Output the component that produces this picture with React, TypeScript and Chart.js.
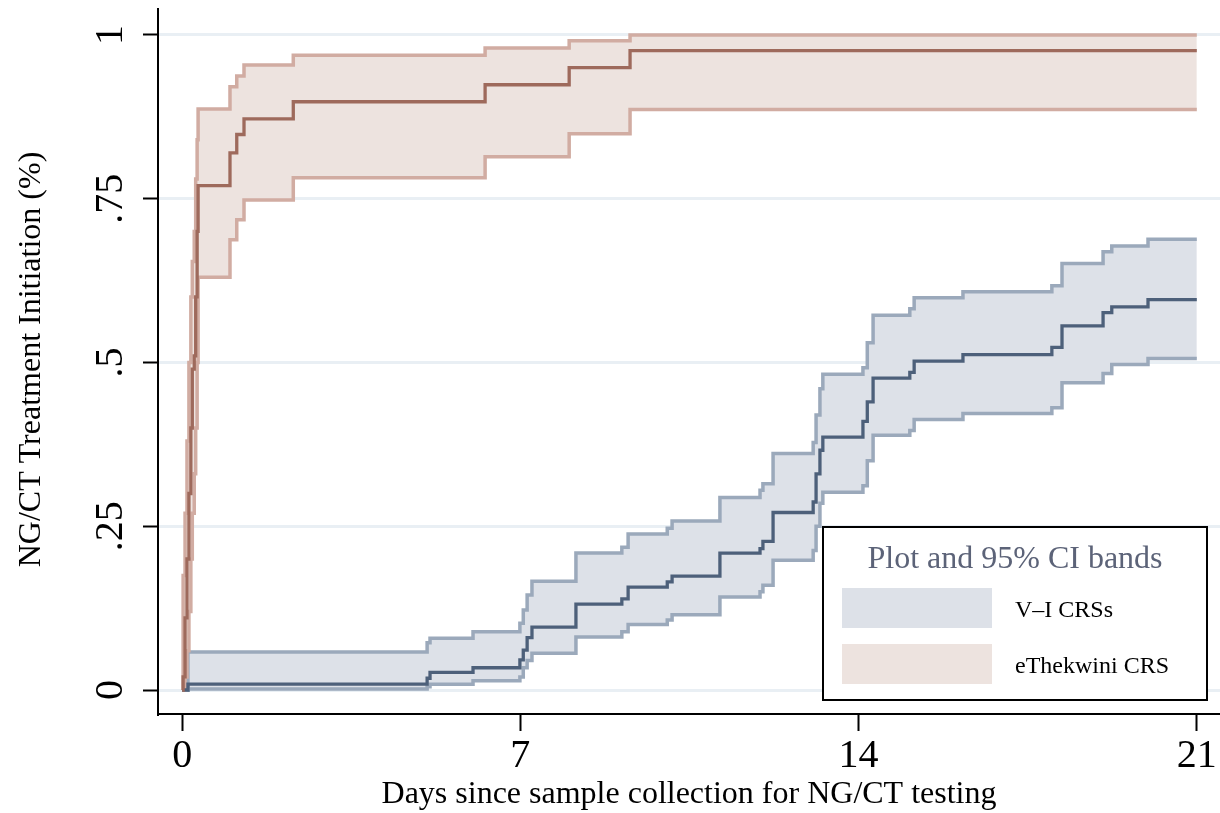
import React, { useEffect, useRef } from "react";
import { Chart, registerables } from "chart.js";

Chart.register(...registerables);

const FONT = '"Liberation Serif", "Times New Roman", serif';

const X_TICKS = [0, 7, 14, 21];
const Y_TICKS = [0, 0.25, 0.5, 0.75, 1];
const Y_TICK_LABELS = ["0", ".25", ".5", ".75", "1"];

const X_TITLE = "Days since sample collection for NG/CT testing";
const Y_TITLE = "NG/CT Treatment Initiation (%)";
const LEGEND_TITLE = "Plot and 95% CI bands";
const SERIES_LABELS = ["V\u2013I CRSs", "eThekwini CRS"];

// V–I CRSs: days, estimate, upper & lower 95% CI
const VI_T = [0, 0.12, 5.07, 5.13, 6.02, 6.99, 7.06, 7.14, 7.24, 8.15, 9.1, 9.23, 10.04, 10.14, 11.13, 11.96, 12.02, 12.23, 13.06, 13.12, 13.2, 13.26, 14.09, 14.18, 14.3, 15.06, 15.15, 16.16, 18.0, 18.21, 19.06, 19.24, 19.99, 21];
const VI_EST = [0, 0.009, 0.018, 0.027, 0.034, 0.046, 0.061, 0.08, 0.096, 0.131, 0.139, 0.157, 0.165, 0.174, 0.209, 0.216, 0.227, 0.271, 0.287, 0.33, 0.366, 0.386, 0.41, 0.44, 0.476, 0.485, 0.502, 0.512, 0.523, 0.556, 0.576, 0.585, 0.596, 0.596];
const VI_UP = [0, 0.058, 0.072, 0.079, 0.089, 0.102, 0.122, 0.145, 0.166, 0.209, 0.218, 0.238, 0.247, 0.258, 0.294, 0.305, 0.315, 0.361, 0.378, 0.42, 0.46, 0.482, 0.492, 0.53, 0.572, 0.582, 0.599, 0.608, 0.617, 0.651, 0.669, 0.678, 0.688, 0.688];
const VI_LO = [0, 0.0015, 0.005, 0.009, 0.014, 0.02, 0.034, 0.045, 0.056, 0.081, 0.089, 0.1, 0.107, 0.115, 0.142, 0.15, 0.16, 0.198, 0.213, 0.25, 0.285, 0.302, 0.312, 0.35, 0.389, 0.396, 0.413, 0.422, 0.431, 0.469, 0.483, 0.497, 0.506, 0.506];

// eThekwini CRS
const ETH_T = [0, 0.02, 0.06, 0.1, 0.14, 0.18, 0.21, 0.25, 0.28, 0.31, 0.33, 0.99, 1.13, 1.28, 2.3, 6.27, 8.01, 9.27, 21];
const ETH_EST = [0, 0.02, 0.11, 0.2, 0.3, 0.4, 0.49, 0.51, 0.6, 0.7, 0.77, 0.82, 0.848, 0.872, 0.898, 0.924, 0.95, 0.976, 0.976];
const ETH_UP = [0, 0.175, 0.27, 0.38, 0.5, 0.6, 0.654, 0.7, 0.78, 0.84, 0.887, 0.921, 0.9375, 0.954, 0.969, 0.98, 0.991, 1.0, 1.0];
const ETH_LO = [0, 0, 0.02, 0.06, 0.12, 0.2, 0.27, 0.33, 0.4, 0.5, 0.63, 0.6875, 0.718, 0.748, 0.782, 0.814, 0.849, 0.886, 0.886];

const VI_LINE = "#4d607a";
const VI_CI = "#9ba9bb";
const VI_FILL = "#dde1e8";
const ETH_LINE = "#9e6a5c";
const ETH_CI = "#d1aca2";
const ETH_FILL = "#ede3df";

const pts = (t: number[], v: number[]) => t.map((x, i) => ({ x, y: v[i] }));

const textPlugin = {
  id: "customText",
  afterDraw(chart: any) {
    const ctx = chart.ctx as CanvasRenderingContext2D;
    const xs = chart.scales.x;
    const ys = chart.scales.y;
    const ca = chart.chartArea;
    ctx.save();
    ctx.fillStyle = "#000";
    ctx.textBaseline = "alphabetic";
    ctx.textAlign = "center";
    // x tick labels
    ctx.font = `40px ${FONT}`;
    X_TICKS.forEach((v) => ctx.fillText(String(v), xs.getPixelForValue(v), ca.bottom + 53));
    // y tick labels (rotated)
    Y_TICKS.forEach((v, i) => {
      ctx.save();
      ctx.translate(ca.left - 36, ys.getPixelForValue(v));
      ctx.rotate(-Math.PI / 2);
      ctx.fillText(Y_TICK_LABELS[i], 0, 0);
      ctx.restore();
    });
    // axis titles
    ctx.font = `32px ${FONT}`;
    ctx.fillText(X_TITLE, (ca.left + ca.right) / 2, ca.bottom + 89);
    ctx.save();
    ctx.translate(ca.left - 118, (ca.top + ca.bottom) / 2 - 2);
    ctx.rotate(-Math.PI / 2);
    ctx.fillText(Y_TITLE, 0, 0);
    ctx.restore();

    // legend box
    const bx = 823, by = 527, bw = 384, bh = 173;
    ctx.fillStyle = "#fff";
    ctx.fillRect(bx, by, bw, bh);
    ctx.strokeStyle = "#000";
    ctx.lineWidth = 2;
    ctx.strokeRect(bx, by, bw, bh);
    ctx.fillStyle = "#5c6378";
    ctx.font = `32px ${FONT}`;
    ctx.textAlign = "center";
    ctx.fillText(LEGEND_TITLE, bx + bw / 2, by + 41);
    const fills = [VI_FILL, ETH_FILL];
    fills.forEach((c, i) => {
      ctx.fillStyle = c;
      ctx.fillRect(bx + 19, by + 61 + i * 56, 150, 40);
      ctx.fillStyle = "#000";
      ctx.font = `24px ${FONT}`;
      ctx.textAlign = "left";
      ctx.fillText(SERIES_LABELS[i], bx + 192, by + 90 + i * 56);
    });
    ctx.restore();
  },
};

export default function App() {
  const ref = useRef<HTMLCanvasElement | null>(null);
  useEffect(() => {
    if (!ref.current) return;
    const common = { pointRadius: 0, stepped: true, borderJoinStyle: "miter" as const, tension: 0 };
    const chart = new Chart(ref.current, {
      type: "line",
      data: {
        datasets: [
          { ...common, label: "VI upper", data: pts(VI_T, VI_UP), borderColor: VI_CI, borderWidth: 3.5, backgroundColor: VI_FILL, fill: "+1", order: 5 },
          { ...common, label: "VI lower", data: pts(VI_T, VI_LO), borderColor: VI_CI, borderWidth: 3.5, fill: false, order: 4 },
          { ...common, label: "ETH upper", data: pts(ETH_T, ETH_UP), borderColor: ETH_CI, borderWidth: 3.5, backgroundColor: ETH_FILL, fill: "+1", order: 3 },
          { ...common, label: "ETH lower", data: pts(ETH_T, ETH_LO), borderColor: ETH_CI, borderWidth: 3.5, fill: false, order: 2 },
          { ...common, label: SERIES_LABELS[0], data: pts(VI_T, VI_EST), borderColor: VI_LINE, borderWidth: 3.3, fill: false, order: 1 },
          { ...common, label: SERIES_LABELS[1], data: pts(ETH_T, ETH_EST), borderColor: ETH_LINE, borderWidth: 3.3, fill: false, order: 0 },
        ],
      },
      options: {
        animation: false,
        responsive: true,
        maintainAspectRatio: false,
        devicePixelRatio: 1,
        layout: { padding: { top: 8, right: 0, left: 0, bottom: 0 } },
        plugins: { legend: { display: false }, tooltip: { enabled: false } },
        scales: {
          x: {
            type: "linear",
            min: -0.5,
            max: 21.48,
            afterBuildTicks: (axis: any) => {
              axis.ticks = X_TICKS.map((v) => ({ value: v }));
            },
            afterFit: (axis: any) => {
              axis.height = 99;
            },
            ticks: { color: "rgba(0,0,0,0)", font: { size: 10 } },
            grid: { drawOnChartArea: false, drawTicks: true, tickLength: 17, tickColor: "#000", tickWidth: 2 },
            border: { display: true, color: "#000", width: 2 },
          },
          y: {
            type: "linear",
            min: -0.0366,
            max: 1.0396,
            afterBuildTicks: (axis: any) => {
              axis.ticks = Y_TICKS.map((v) => ({ value: v }));
            },
            afterFit: (axis: any) => {
              axis.width = 158;
            },
            ticks: { color: "rgba(0,0,0,0)", font: { size: 10 } },
            grid: { color: "#e9eff4", lineWidth: 3, drawTicks: true, tickLength: 15, tickColor: "#000", tickWidth: 2 },
            border: { display: true, color: "#000", width: 2 },
          },
        },
      },
      plugins: [textPlugin],
    });
    return () => chart.destroy();
  }, []);
  return (
    <div style={{ position: "fixed", left: 0, top: 0, width: 1220, height: 813, background: "#fff" }}>
      <canvas ref={ref} />
    </div>
  );
}
